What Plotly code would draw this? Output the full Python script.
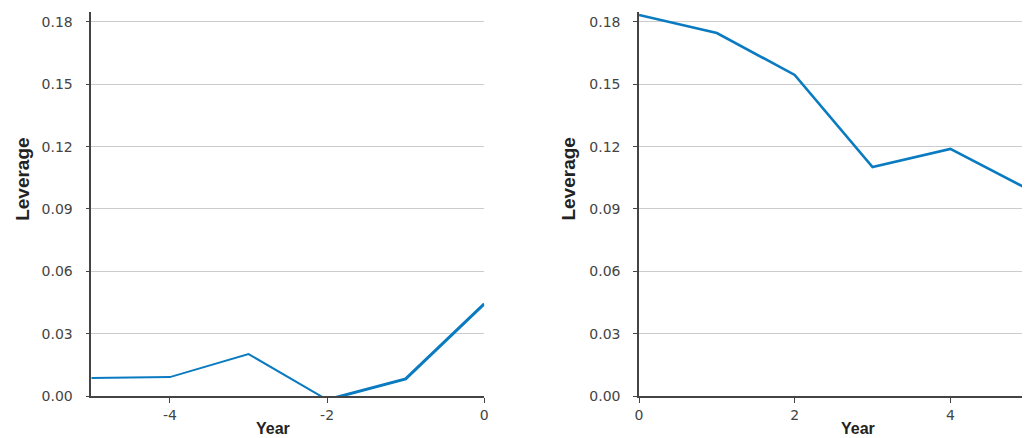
import plotly.graph_objects as go

# Data
years_pre = [-5, -4, -3, -2, -1, 0]
lev_pre = [0.0087, 0.0091, 0.0202, -0.0018, 0.0082, 0.0443]
years_post = [0, 1, 2, 3, 4, 5]
lev_post = [0.1834, 0.1747, 0.1545, 0.1102, 0.1189, 0.0995]
y_ticks = [0.00, 0.03, 0.06, 0.09, 0.12, 0.15, 0.18]
y_tick_text = ["0.00", "0.03", "0.06", "0.09", "0.12", "0.15", "0.18"]
x_ticks_pre = [-4, -2, 0]
x_tick_text_pre = ["-4", "-2", "0"]
x_ticks_post = [0, 2, 4]
x_tick_text_post = ["0", "2", "4"]

W, H = 1026, 438
LINE = "#0a7bc1"
FONT = "Liberation Sans"
TICKFONT = "DejaVu Sans"

def px(p):
    return p / W

fig = go.Figure()
split = years_pre.index(-2)
fig.add_trace(go.Scatter(x=years_pre[:split + 1], y=lev_pre[:split + 1], mode="lines",
                         line=dict(color=LINE, width=2), xaxis="x", yaxis="y",
                         showlegend=False, hoverinfo="skip"))
fig.add_trace(go.Scatter(x=years_pre[split:], y=lev_pre[split:], mode="lines",
                         line=dict(color=LINE, width=3), xaxis="x", yaxis="y",
                         showlegend=False, hoverinfo="skip"))
fig.add_trace(go.Scatter(x=years_post, y=lev_post, mode="lines",
                         line=dict(color=LINE, width=2.6), xaxis="x2", yaxis="y2",
                         showlegend=False, hoverinfo="skip"))

axis_common = dict(showline=True, linecolor="#444", linewidth=1.5, ticks="outside",
                   ticklen=5, tickwidth=1, tickcolor="#444",
                   tickfont=dict(family=TICKFONT, size=14, color="#444"))
ycommon = dict(axis_common, range=[0, 0.1848], tickvals=y_ticks, ticktext=y_tick_text,
               showgrid=True, gridcolor="#cccccc", gridwidth=1, zeroline=False,
               ticklen=4, ticklabelstandoff=10)
xcommon = dict(axis_common, showgrid=False, zeroline=False)

top_page, bottom_page = 12, 396
fig.update_layout(
    width=W, height=H,
    margin=dict(l=0, r=0, t=top_page, b=H - bottom_page),
    paper_bgcolor="white", plot_bgcolor="white",
    xaxis=dict(xcommon, domain=[px(88), px(484)], range=[-5, 0], tickvals=x_ticks_pre,
               ticktext=x_tick_text_pre, anchor="y"),
    yaxis=dict(ycommon, anchor="x"),
    xaxis2=dict(xcommon, domain=[px(640), 1.0], range=[0, 4.92], tickvals=x_ticks_post,
                ticktext=x_tick_text_post, anchor="y2"),
    yaxis2=dict(ycommon, anchor="x2"),
)

def py(p):
    return (bottom_page - p) / (bottom_page - top_page)

for xp in [18, 568]:
    fig.add_annotation(text="<b>Leverage</b>", x=px(xp), y=py(179), xref="paper",
                       yref="paper", textangle=-90, showarrow=False,
                       font=dict(family=FONT, size=19, color="#222"),
                       xanchor="center", yanchor="middle")
for xp in [271, 861]:
    fig.add_annotation(text="<b>Year</b>", x=px(xp), y=py(438), xref="paper",
                       yref="paper", showarrow=False, borderpad=0,
                       font=dict(family=FONT, size=16, color="#222"),
                       xanchor="center", yanchor="bottom")

fig.write_html("out.html",
               config={"displayModeBar": False},
               post_script="document.body.style.margin='0';document.body.style.overflow='hidden';")
